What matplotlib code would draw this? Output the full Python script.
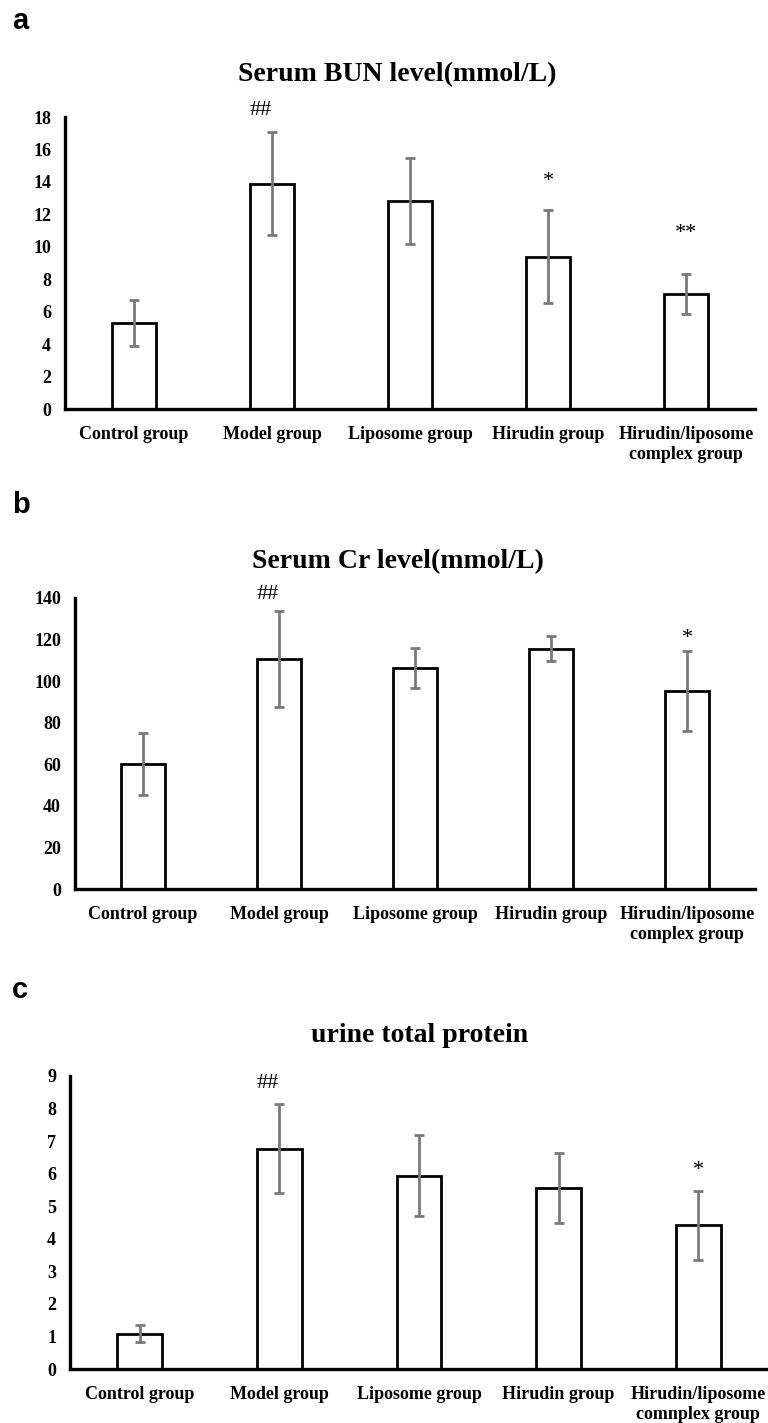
import matplotlib
matplotlib.use("Agg")
import matplotlib.pyplot as plt
import numpy as np

categories = ["Control group", "Model group", "Liposome group", "Hirudin group",
              "Hirudin/liposome\ncomplex group"]
categories_c = ["Control group", "Model group", "Liposome group", "Hirudin group",
                "Hirudin/liposome\ncomnplex group"]

bun_mean = [5.3, 13.9, 12.8, 9.4, 7.1]
bun_err = [1.4, 3.15, 2.65, 2.85, 1.25]
bun_marks = ["", "##", "", "*", "**"]
bun_mark_y = [0, 18.4, 0, 14.0, 10.8]

cr_mean = [60.0, 110.6, 106.2, 115.6, 95.4]
cr_err = [15.0, 23.0, 9.7, 5.9, 19.2]
cr_marks = ["", "##", "", "", "*"]
cr_mark_y = [0, 141.6, 0, 0, 120.3]

utp_mean = [1.09, 6.77, 5.94, 5.57, 4.41]
utp_err = [0.27, 1.37, 1.25, 1.07, 1.05]
utp_marks = ["", "##", "", "", "*"]
utp_mark_y = [0, 8.77, 0, 0, 6.11]

serif = "Liberation Serif"

fig = plt.figure(figsize=(7.68, 14.23), dpi=100)

panels = [
    dict(rect=[65/768, 1-409/1423, 690/768, 292/1423], mean=bun_mean, err=bun_err,
         marks=bun_marks, my=bun_mark_y, ylim=18, ticks=np.arange(0, 19, 2),
         cats=categories, title="Serum BUN level(mmol/L)", tx=397/768, ty=1-75/1423,
         letter="a", ly=1-21/1423),
    dict(rect=[75/768, 1-889/1423, 680/768, 291/1423], mean=cr_mean, err=cr_err,
         marks=cr_marks, my=cr_mark_y, ylim=140, ticks=np.arange(0, 141, 20),
         cats=categories, title="Serum Cr level(mmol/L)", tx=398/768, ty=1-562/1423,
         letter="b", ly=1-505/1423),
    dict(rect=[70/768, 1-1369/1423, 698/768, 293/1423], mean=utp_mean, err=utp_err,
         marks=utp_marks, my=utp_mark_y, ylim=9, ticks=np.arange(0, 10, 1),
         cats=categories_c, title="urine total protein", tx=420/768, ty=1-1036/1423,
         letter="c", ly=1-990/1423),
]

for p in panels:
    ax = fig.add_axes(p["rect"])
    x = np.arange(len(p["cats"]))
    ax.bar(x, p["mean"], width=0.32, color="white", edgecolor="black", linewidth=2.0,
           zorder=2)
    ax.errorbar(x, p["mean"], yerr=p["err"], fmt="none", ecolor="#7a7a7a",
                elinewidth=2.0, capsize=3.5, capthick=2.0, zorder=3)
    for xi, m, yy in zip(x, p["marks"], p["my"]):
        if m:
            dx = -0.08 if m == "##" else 0.0
            ax.text(xi + dx, yy, m, ha="center", va="center", fontsize=16,
                    family=serif)
    ax.set_xlim(-0.5, len(p["cats"]) - 0.5)
    ax.set_ylim(0, p["ylim"])
    ax.set_yticks(p["ticks"])
    ax.set_yticklabels([str(int(t)) for t in p["ticks"]], fontsize=13,
                       family=serif, fontweight="bold")
    ax.set_xticks(x)
    ax.set_xticklabels(p["cats"], fontsize=13, family=serif, fontweight="bold",
                       linespacing=1.25, va="top")
    ax.tick_params(axis="both", length=0)
    ax.tick_params(axis="y", pad=10)
    ax.tick_params(axis="x", pad=12)
    for s in ["top", "right"]:
        ax.spines[s].set_visible(False)
    for s in ["left", "bottom"]:
        ax.spines[s].set_linewidth(2.4)
        ax.spines[s].set_color("black")
    ax.patch.set_alpha(0)
    fig.text(p["tx"], p["ty"], p["title"], ha="center", va="center", fontsize=20,
             family=serif, fontweight="bold")
    fig.text(12/768, p["ly"], p["letter"], ha="left", va="center", fontsize=21,
             family="Liberation Sans", fontweight="bold")

fig.savefig("out.png", dpi=100)
